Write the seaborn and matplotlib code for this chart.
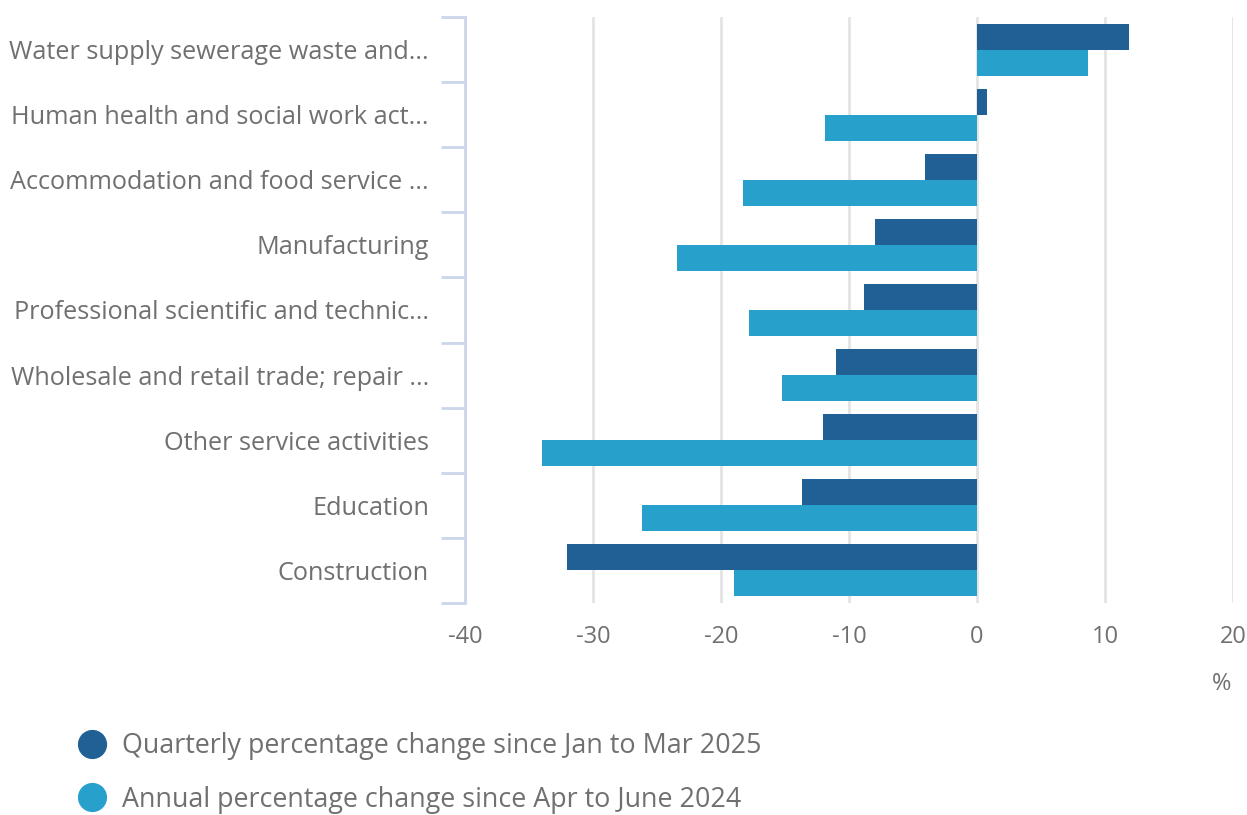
import matplotlib
matplotlib.use("Agg")
import matplotlib.pyplot as plt
import seaborn as sns
import pandas as pd
import numpy as np
from matplotlib.lines import Line2D

categories = [
    "Water supply sewerage waste and...",
    "Human health and social work act...",
    "Accommodation and food service ...",
    "Manufacturing",
    "Professional scientific and technic...",
    "Wholesale and retail trade; repair ...",
    "Other service activities",
    "Education",
    "Construction",
]
quarterly = [11.9, 0.8, -4.1, -8.0, -8.8, -11.0, -12.0, -13.7, -32.0]
annual = [8.7, -11.9, -18.3, -23.4, -17.8, -15.2, -34.0, -26.2, -19.0]
series_names = ["Quarterly percentage change since Jan to Mar 2025",
                "Annual percentage change since Apr to June 2024"]
colors = ["#206095", "#27a0cc"]
xticks = [-40, -30, -20, -10, 0, 10, 20]

df = pd.DataFrame({
    "category": categories * 2,
    "value": quarterly + annual,
    "series": [series_names[0]] * len(categories) + [series_names[1]] * len(categories),
})

sns.set_theme(style="white")
plt.rcParams["font.family"] = ["Open Sans", "DejaVu Sans"]
text_color = "#707070"

fig = plt.figure(figsize=(12.47, 8.15), dpi=100)
ax = fig.add_axes([465/1247, 1-603/815, (1233-465)/1247, (603-17)/815])

sns.barplot(data=df, y="category", x="value", hue="series", order=categories,
            hue_order=series_names, palette=colors, orient="h", width=0.8,
            saturation=1, ax=ax, legend=False, zorder=3, linewidth=0,
            edgecolor="none")

ax.set_xlim(-40, 20)
ax.set_xticks(xticks)
ax.set_xticklabels([str(t) for t in xticks])
ax.set_ylim(len(categories) - 0.5, -0.5)
ax.set_xlabel("")
ax.set_ylabel("")
ax.grid(axis="x", color="#e4e4e4", linewidth=2, zorder=0)
ax.grid(axis="y", visible=False)
for s in ["top", "right", "bottom"]:
    ax.spines[s].set_visible(False)
ax.spines["left"].set_color("#ccd6eb")
ax.spines["left"].set_linewidth(2)

ax.tick_params(axis="y", length=0, pad=26, labelsize=18.2, labelcolor=text_color)
ax.tick_params(axis="x", length=0, pad=16, labelsize=17, labelcolor=text_color)
ax.set_yticks(np.arange(-0.5, len(categories) + 0.5, 1), minor=True)
ax.tick_params(axis="y", which="minor", length=17, width=2, color="#ccd6eb", left=True)

fig.text(1222/1247, 1-684/815, "%", ha="center", va="center", fontsize=17, color=text_color)

handles = [Line2D([0], [0], marker="o", linestyle="none", markersize=20,
                  markerfacecolor=c, markeredgecolor=c) for c in colors]
fig.legend(handles, series_names, loc="upper left",
           bbox_to_anchor=(65/1247, 1-732/815), frameon=False,
           fontsize=19.4, labelcolor=text_color, handletextpad=0.12,
           labelspacing=0.95, borderaxespad=0, borderpad=0)

fig.savefig("out.png", dpi=100)
